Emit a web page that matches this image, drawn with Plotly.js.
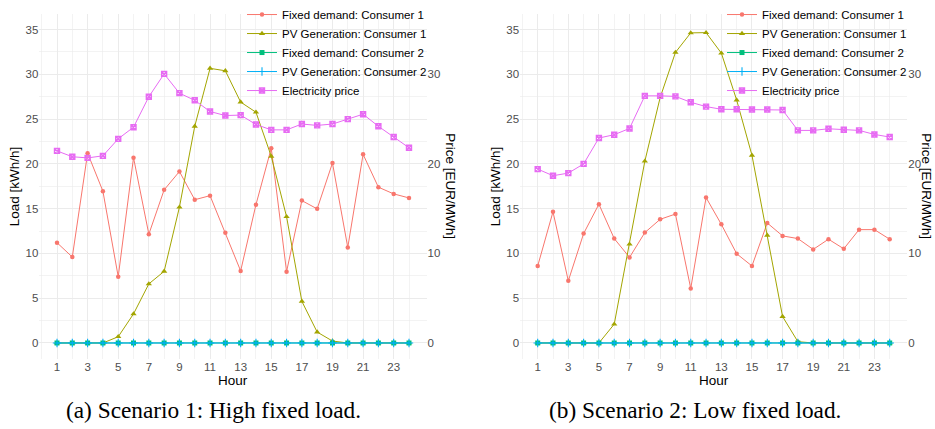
<!DOCTYPE html>
<html>
<head>
<meta charset="utf-8">
<script src="https://cdn.plot.ly/plotly-3.0.1.min.js"></script>
<style>
  html, body { margin: 0; padding: 0; background: #ffffff; }
  #chart { width: 935px; height: 429px; }
</style>
</head>
<body>
<div id="chart"></div>
<script>
// Hours of the day
const hours = [1,2,3,4,5,6,7,8,9,10,11,12,13,14,15,16,17,18,19,20,21,22,23,24];

// Scenario 1: high fixed load
const s1FixedC1 = [11.2,9.6,21.2,16.95,7.4,20.7,12.15,17.1,19.15,16.0,16.45,12.3,8.05,15.45,21.75,7.97,15.9,14.98,20.1,10.67,21.07,17.4,16.65,16.2];
const s1PvC1    = [0,0,0,0,0.7,3.25,6.6,8.0,15.17,24.2,30.67,30.4,26.9,25.77,20.85,14.1,4.65,1.22,0.22,0,0,0,0,0];
const s1FixedC2 = [0,0,0,0,0,0,0,0,0,0,0,0,0,0,0,0,0,0,0,0,0,0,0,0];
const s1PvC2    = [0,0,0,0,0,0,0,0,0,0,0,0,0,0,0,0,0,0,0,0,0,0,0,0];
const s1Price   = [21.45,20.8,20.67,20.9,22.8,24.1,27.5,30.05,27.9,27.1,25.85,25.4,25.45,24.4,23.8,23.8,24.45,24.3,24.45,25.0,25.55,24.2,23.0,21.8];

// Scenario 2: low fixed load
const s2FixedC1 = [8.6,14.65,6.94,12.22,15.5,11.66,9.56,12.33,13.81,14.4,6.09,16.24,13.25,9.97,8.6,13.4,11.96,11.66,10.45,11.59,10.52,12.66,12.66,11.59];
const s2PvC1    = [0,0,0,0,0,2.1,11.04,20.3,27.4,32.45,34.63,34.66,32.37,27.13,20.96,12.03,2.95,0.15,0,0,0,0,0,0];
const s2FixedC2 = [0,0,0,0,0,0,0,0,0,0,0,0,0,0,0,0,0,0,0,0,0,0,0,0];
const s2PvC2    = [0,0,0,0,0,0,0,0,0,0,0,0,0,0,0,0,0,0,0,0,0,0,0,0];
const s2Price   = [19.42,18.68,18.97,20.0,22.89,23.26,23.96,27.6,27.6,27.54,26.88,26.4,26.1,26.1,26.07,26.07,26.02,23.74,23.74,23.92,23.81,23.74,23.29,23.0];

// Axis ticks and labels
const hourTicks  = [1,3,5,7,9,11,13,15,17,19,21,23];
const loadTicks  = [0,5,10,15,20,25,30,35];
const priceTicks = [0,10,20,30];

const seriesNames = ['Fixed demand: Consumer 1','PV Generation: Consumer 1','Fixed demand: Consumer 2','PV Generation: Consumer 2','Electricity price'];
const seriesColors = ['#F8766D','#A3A500','#00BF7D','#00B0F6','#E76BF3'];

const markerStyles = [
  {symbol: 'circle', size: 4.5},
  {symbol: 'triangle-up', size: 5.5},
  {symbol: 'square', size: 5},
  {symbol: 'cross-thin-open', size: 6, line: {width: 1.1}},
  {symbol: 'square-x-open', size: 5, line: {width: 1.4}}
];

function panelTraces(values, xa, ya, yPrice, legendId) {
  return values.map(function (vals, i) {
    const m = Object.assign({color: seriesColors[i]}, markerStyles[i]);
    if (m.line) m.line = Object.assign({color: seriesColors[i]}, m.line);
    return {
      type: 'scatter', mode: 'lines+markers',
      x: hours, y: vals, name: seriesNames[i],
      xaxis: xa, yaxis: i === 4 ? yPrice : ya,
      legend: legendId,
      line: {color: seriesColors[i], width: 1},
      marker: m,
      cliponaxis: false
    };
  });
}

const data = [].concat(
  panelTraces([s1FixedC1, s1PvC1, s1FixedC2, s1PvC2, s1Price], 'x', 'y', 'y3', 'legend'),
  panelTraces([s2FixedC1, s2PvC1, s2FixedC2, s2PvC2, s2Price], 'x2', 'y2', 'y4', 'legend2')
);

const W = 935, H = 429;
const yRange = [-1.75, 36.75];
const xRange = [-0.15, 25.15];
const tickFont = {family: 'Liberation Sans, Arial, sans-serif', size: 11.5, color: '#4d4d4d'};
const gridColor = '#ebebeb';

function xAxis(domain, anchor) {
  return {
    domain: domain, anchor: anchor, range: xRange, tickmode: 'array', tickvals: hourTicks,
    showgrid: true, gridcolor: gridColor, gridwidth: 1, zeroline: false, showline: false,
    ticks: '', tickfont: tickFont,
    minor: {tick0: 0, dtick: 2, showgrid: true, gridcolor: gridColor, gridwidth: 0.6}
  };
}
function loadAxis(anchor) {
  return {
    domain: [71 / H, 419 / H], anchor: anchor, range: yRange, tickmode: 'array', tickvals: loadTicks,
    showgrid: true, gridcolor: gridColor, gridwidth: 1, zeroline: false, showline: false,
    ticks: '', tickfont: tickFont,
    minor: {tick0: 0, dtick: 2.5, showgrid: true, gridcolor: gridColor, gridwidth: 0.6}
  };
}
function priceAxis(overlay, anchor) {
  return {
    overlaying: overlay, anchor: anchor, side: 'right', range: yRange,
    tickmode: 'array', tickvals: priceTicks, showgrid: false, zeroline: false,
    showline: false, ticks: '', tickfont: tickFont
  };
}

const legendBase = {
  xanchor: 'left', yanchor: 'top', bgcolor: 'rgba(255,255,255,0)', borderwidth: 0,
  font: {family: 'Liberation Sans, Arial, sans-serif', size: 11.5, color: '#000000'},
  tracegroupgap: 0
};

const titleFont = {family: 'Liberation Sans, Arial, sans-serif', size: 13.5, color: '#000000'};
const captionFont = {family: 'Liberation Serif, Times New Roman, serif', size: 23.3, color: '#000000'};

function ann(text, px, py, font, angle) {
  return {text: text, x: px / W, y: 1 - py / H, xref: 'paper', yref: 'paper',
          xanchor: 'center', yanchor: 'middle', showarrow: false, font: font, textangle: angle || 0};
}

const layout = {
  width: W, height: H,
  margin: {l: 0, r: 0, t: 0, b: 0},
  paper_bgcolor: '#ffffff', plot_bgcolor: 'rgba(0,0,0,0)',
  showlegend: true,
  xaxis: xAxis([39.4 / W, 426.6 / W], 'y'),
  yaxis: loadAxis('x'),
  xaxis2: xAxis([520.1 / W, 907.3 / W], 'y2'),
  yaxis2: loadAxis('x2'),
  yaxis3: priceAxis('y', 'x'),
  yaxis4: priceAxis('y2', 'x2'),
  legend: Object.assign({x: 242 / W, y: 1 + 4 / H}, legendBase),
  legend2: Object.assign({x: 722 / W, y: 1 + 4 / H}, legendBase),
  annotations: [
    ann('Load [kWh/h]', 14, 184, titleFont, -90),
    ann('Price [EUR/MWh]', 451, 184, titleFont, 90),
    ann('Hour', 233, 380, titleFont),
    ann('Load [kWh/h]', 495, 184, titleFont, -90),
    ann('Price [EUR/MWh]', 927, 184, titleFont, 90),
    ann('Hour', 713.7, 380, titleFont),
    ann('(a) Scenario 1: High fixed load.', 213.5, 410, captionFont),
    ann('(b) Scenario 2: Low fixed load.', 694.7, 410, captionFont)
  ]
};

Plotly.newPlot('chart', data, layout, {displayModeBar: false, staticPlot: true});
</script>
</body>
</html>
